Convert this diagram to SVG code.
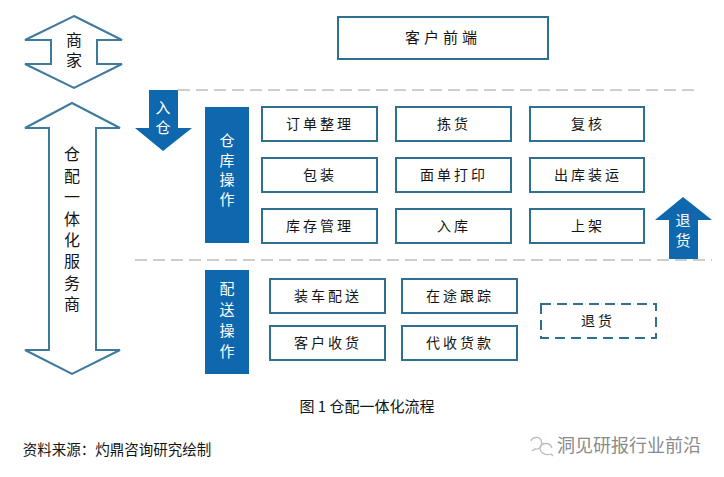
<svg xmlns="http://www.w3.org/2000/svg" width="724" height="477" viewBox="0 0 724 477">
<style>
text{font-family:"Noto Sans CJK SC","Noto Sans",sans-serif;text-anchor:middle;fill:#141414}
.b{fill:#fff;stroke:#2f6f92;stroke-width:2}
.d{fill:#fff;stroke:#2f6f92;stroke-width:2;stroke-dasharray:10 6}
.a{fill:#fff;stroke:#3d7a9e;stroke-width:2}
.s{fill:#0f67ad}
.l{font-size:14px;letter-spacing:3px}
.v{font-size:16px;writing-mode:vertical-rl}
.w{font-size:15px;writing-mode:vertical-rl;fill:#fff}
.g{fill:none;stroke:#bdbdbd;stroke-width:1.5;stroke-dasharray:12 6}
</style>
<rect width="724" height="477" fill="#fff"/>
<g id="connectors">
<path class="g" d="M178 90H698"/>
<path class="g" d="M135 260H712"/>
</g>
<g id="merchant"><path class="a" d="M74 16L122 40H97V64H122L74 88L25 64H51V40H25Z"/><text class="v" x="74" y="52" style="letter-spacing:4px">商家</text></g>
<g id="provider"><path class="a" d="M72 103L120 128H96V350H120L72 374L25 350H49V128H25Z"/><text class="v" x="72" y="232" style="letter-spacing:5.4px">仓配一体化服务商</text></g>
<g id="front"><rect class="b" x="338" y="17" width="210" height="42"/><text x="443" y="43" style="font-size:15px;letter-spacing:4px">客户前端</text></g>
<g id="inbound"><path class="s" d="M149 90H178V128H192L163 151L135 128H149Z"/><text class="w" x="163" y="120" style="letter-spacing:5px">入仓</text></g>
<g id="return-arrow"><path class="s" d="M683 197L712 220H698V259H669V220H655Z"/><text class="w" x="683" y="233" style="letter-spacing:5px">退货</text></g>
<g id="warehouse"><rect class="s" x="205" y="107" width="44" height="136"/><text class="w" x="227" y="172" style="letter-spacing:4.6px">仓库操作</text></g>
<g id="delivery"><rect class="s" x="205" y="270" width="44" height="104"/><text class="w" x="227" y="323" style="letter-spacing:6px">配送操作</text></g>
<g id="n1"><rect class="b" x="262" y="107" width="115" height="34"/><text class="l" x="320" y="129">订单整理</text></g>
<g id="n2"><rect class="b" x="396" y="107" width="115" height="34"/><text class="l" x="454" y="129">拣货</text></g>
<g id="n3"><rect class="b" x="530" y="107" width="114" height="34"/><text class="l" x="588" y="129">复核</text></g>
<g id="n4"><rect class="b" x="262" y="158" width="115" height="34"/><text class="l" x="320" y="180">包装</text></g>
<g id="n5"><rect class="b" x="396" y="158" width="115" height="34"/><text class="l" x="454" y="180">面单打印</text></g>
<g id="n6"><rect class="b" x="530" y="158" width="114" height="34"/><text class="l" x="588" y="180">出库装运</text></g>
<g id="n7"><rect class="b" x="262" y="209" width="115" height="34"/><text class="l" x="320" y="231">库存管理</text></g>
<g id="n8"><rect class="b" x="396" y="209" width="115" height="34"/><text class="l" x="454" y="231">入库</text></g>
<g id="n9"><rect class="b" x="530" y="209" width="114" height="34"/><text class="l" x="588" y="231">上架</text></g>
<g id="n10"><rect class="b" x="270" y="279" width="115" height="34"/><text class="l" x="328" y="301">装车配送</text></g>
<g id="n11"><rect class="b" x="402" y="279" width="115" height="34"/><text class="l" x="460" y="301">在途跟踪</text></g>
<g id="n12"><rect class="b" x="270" y="326" width="115" height="34"/><text class="l" x="328" y="348">客户收货</text></g>
<g id="n13"><rect class="b" x="402" y="326" width="115" height="34"/><text class="l" x="460" y="348">代收货款</text></g>
<g id="n14"><rect class="d" x="541" y="304" width="115" height="34"/><text class="l" x="598" y="326">退货</text></g>
<text x="367" y="412" style="font-size:15px">图 1 仓配一体化流程</text>
<text x="117" y="455" style="font-size:14.5px">资料来源：灼鼎咨询研究绘制</text>
<g fill="none" stroke="#bcbcbc" stroke-width="1.3"><path d="M531 441C532 437 539 436 541 440C543 445 540 450 535 449L532 451"/><path d="M552 448C550 442 541 442 540 448C540 453 546 456 551 454L553 456"/></g>
<text x="629" y="452" style="font-size:18px;fill:#8a8a8a">洞见研报行业前沿</text>
</svg>
